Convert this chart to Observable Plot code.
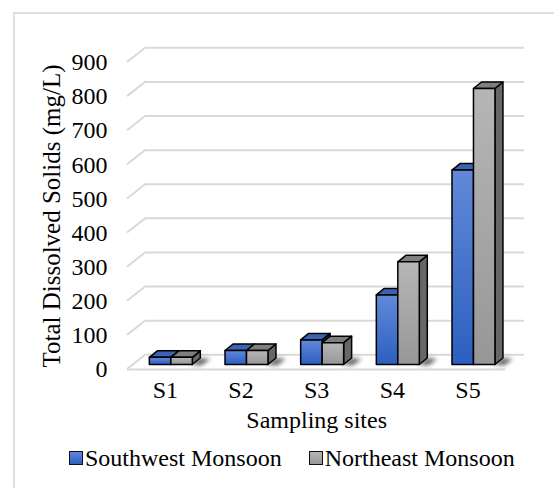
<!DOCTYPE html>
<html><head><meta charset="utf-8">
<script src="https://cdn.jsdelivr.net/npm/d3@7"></script>
<script src="https://cdn.jsdelivr.net/npm/@observablehq/plot@0.6"></script>
<style>
html,body{margin:0;padding:0;background:#fff;overflow:hidden;}
#wrap{position:relative;width:554px;height:488px;overflow:hidden;font-family:"Liberation Serif","Times New Roman",serif;color:#000;}
#frame{position:absolute;left:13px;top:12px;width:600px;height:600px;border:2px solid #e0e0e0;box-sizing:border-box;}
#chart{position:absolute;left:0;top:0;}
#chart svg text{font-family:"Liberation Serif","Times New Roman",serif;}
#legend{position:absolute;left:69px;top:445px;height:26px;line-height:26px;display:flex;align-items:center;font-size:24px;white-space:nowrap;}
.item{display:flex;align-items:center;}
.sw{width:12px;height:12px;border:1.5px solid #111;margin-right:2px;}
</style></head><body>
<div id="wrap"><div id="frame"></div><div id="chart"></div><div id="legend"></div></div>
<script>
// ---- data ----
const sites = ["S1", "S2", "S3", "S4", "S5"];
const seriesNames = ["Southwest Monsoon", "Northeast Monsoon"];
const southwest = [21, 41, 72, 204, 570];
const northeast = [21, 41, 64, 301, 809];
const yTicks = [0, 100, 200, 300, 400, 500, 600, 700, 800, 900];
const xLabel = "Sampling sites";
const yLabel = "Total Dissolved Solids (mg/L)";

// ---- layout / style ----
const W = 554, H = 440;
const FONT = "Liberation Serif";
const back = {dx: 18.7, dy: -14.7};
const barOff = {dx: 6, dy: -4.5};
const depth = {dx: 8, dy: -6.5};
const bw = 0.284;
const palettes = [
  {grad: "gSW", top: "#3b63b3", side: "#2a4b8e", c0: "#6189d8", c1: "#2c5fc0"},
  {grad: "gNE", top: "#7e7e7e", side: "#676767", c0: "#b6b6b6", c1: "#979797"}
];

const rows = [];
sites.forEach((s, i) => {
  rows.push({site: s, i, j: 0, series: seriesNames[0], value: southwest[i]});
  rows.push({site: s, i, j: 1, series: seriesNames[1], value: northeast[i]});
});

function wall(index, scales, values) {
  const X = values.x, Y = values.y;
  const g = d3.create("svg:g").attr("stroke", "#d9d9d9").attr("stroke-width", 2).attr("fill", "none");
  for (const k of index) {
    g.append("line").attr("x1", X[k]).attr("y1", Y[k]).attr("x2", X[k] + back.dx).attr("y2", Y[k] + back.dy);
  }
  return g.node();
}

function bars3d(index, scales, values) {
  const X1 = values.x1, X2 = values.x2, Y1 = values.y1, Y2 = values.y2;
  const g = d3.create("svg:g");
  const defs = g.append("defs");
  for (const p of palettes) {
    const lg = defs.append("linearGradient").attr("id", p.grad).attr("x1", 0).attr("y1", 0).attr("x2", 0).attr("y2", 1);
    lg.append("stop").attr("offset", 0).attr("stop-color", p.c0);
    lg.append("stop").attr("offset", 1).attr("stop-color", p.c1);
  }
  defs.append("filter").attr("id", "shblur").attr("x", "-50%").attr("y", "-100%").attr("width", "200%").attr("height", "300%")
    .append("feGaussianBlur").attr("stdDeviation", 2);
  const ord = Array.from(index).sort((a, b) => rows[a].i - rows[b].i || rows[a].j - rows[b].j);
  for (const k of ord) if (rows[k].j === 1) {
    const xr = X2[k] + barOff.dx, yb = Y1[k] + barOff.dy;
    g.append("path")
      .attr("d", `M${xr - 2},${yb}L${xr + depth.dx},${yb + depth.dy}L${xr + depth.dx + 10},${yb + depth.dy + 1}L${xr + 9},${yb + 1}Z`)
      .attr("fill", "#000").attr("opacity", 0.6).attr("filter", "url(#shblur)");
  }
  for (const k of ord) {
    const p = palettes[rows[k].j];
    const xl = X1[k] + barOff.dx, xr = X2[k] + barOff.dx;
    const yb = Y1[k] + barOff.dy, yt = Y2[k] + barOff.dy;
    const ddx = depth.dx, ddy = depth.dy;
    const st = sel => sel.attr("stroke", "#000").attr("stroke-width", 1.5).attr("stroke-linejoin", "round");
    st(g.append("path").attr("d", `M${xr},${yt}L${xr + ddx},${yt + ddy}L${xr + ddx},${yb + ddy}L${xr},${yb}Z`).attr("fill", p.side));
    st(g.append("path").attr("d", `M${xl},${yt}L${xl + ddx},${yt + ddy}L${xr + ddx},${yt + ddy}L${xr},${yt}Z`).attr("fill", p.top));
    st(g.append("path").attr("d", `M${xl},${yt}L${xr},${yt}L${xr},${yb}L${xl},${yb}Z`).attr("fill", `url(#${p.grad})`));
  }
  return g.node();
}

const chart = Plot.plot({
  width: W, height: H,
  marginLeft: 127, marginRight: W - 505.3, marginTop: 62, marginBottom: H - 369,
  style: {fontFamily: FONT, fontSize: "24px", background: "transparent", color: "#000", overflow: "visible"},
  x: {domain: [0, sites.length], axis: null},
  y: {domain: [0, 900], axis: null},
  marks: [
    Plot.ruleY(yTicks, {y: d => d, dx: back.dx, dy: back.dy, stroke: "#d9d9d9", strokeWidth: 2}),
    Plot.dot(yTicks, {x: d => 0, y: d => d, render: wall}),
    Plot.ruleY([0], {stroke: "#d9d9d9", strokeWidth: 2}),
    Plot.rect(rows, {
      x1: d => d.i + 0.5 - (d.j === 0 ? bw : 0),
      x2: d => d.i + 0.5 + (d.j === 1 ? bw : 0),
      y1: d => 0, y2: d => d.value,
      render: bars3d
    }),
    // y tick labels
    Plot.text(yTicks, {x: d => 0, y: d => d, text: d => String(d), textAnchor: "end", dx: -20, fontSize: 24, fontFamily: FONT, fill: "#000"}),
    // x tick labels
    Plot.text(sites, {x: (d, i) => i + 0.5, frameAnchor: "bottom", text: d => d, dy: 28, fontSize: 24, fontFamily: FONT, fill: "#000"}),
    Plot.text([yLabel], {text: d => d, frameAnchor: "left", textAnchor: "middle", dx: -76, rotate: -90, fontSize: 25, fontFamily: FONT, fill: "#000"}),
    Plot.text([xLabel], {text: d => d, frameAnchor: "bottom", dy: 58, fontSize: 24, fontFamily: FONT, fill: "#000"})
  ]
});
document.getElementById("chart").appendChild(chart);

const legend = document.getElementById("legend");
seriesNames.forEach((name, j) => {
  const it = document.createElement("div");
  it.className = "item";
  if (j > 0) it.style.marginLeft = "27px";
  const sw = document.createElement("div");
  sw.className = "sw";
  sw.style.background = `linear-gradient(${palettes[j].c0}, ${palettes[j].c1})`;
  const t = document.createElement("span");
  t.textContent = name;
  it.appendChild(sw); it.appendChild(t);
  legend.appendChild(it);
});
</script>
</body></html>
